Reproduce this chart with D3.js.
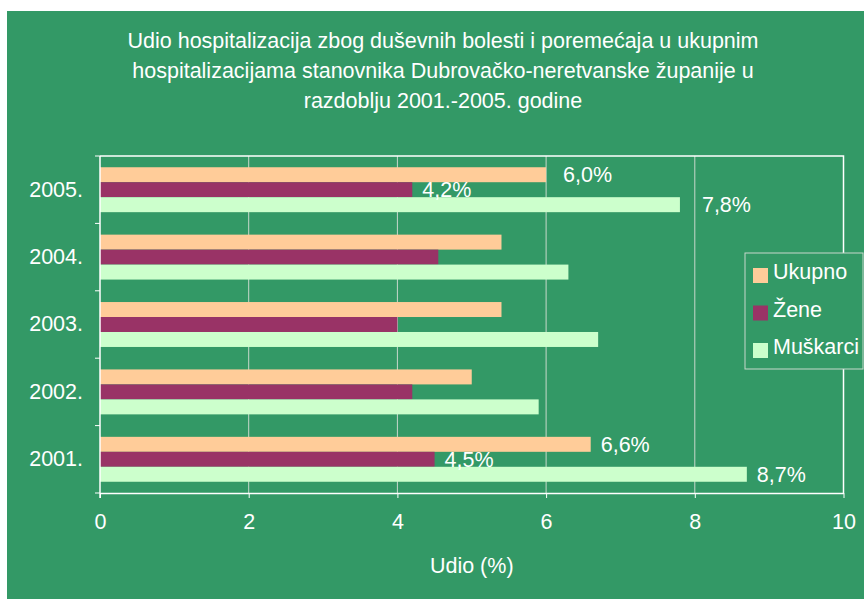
<!DOCTYPE html>
<html>
<head>
<meta charset="utf-8">
<script src="https://cdn.jsdelivr.net/npm/d3@7"></script>
<style>
  body { margin: 0; background: #ffffff; }
  svg text { font-family: "Liberation Sans", Arial, sans-serif; fill: #ffffff; }
</style>
</head>
<body>
<script>

// ---- data ----
var years      = ["2001.", "2002.", "2003.", "2004.", "2005."];
var seriesNames = ["Ukupno", "Žene", "Muškarci"];
var ukupno     = [6.6, 5.0, 5.4, 5.4, 6.0];
var zene       = [4.5, 4.2, 4.0, 4.55, 4.2];
var muskarci   = [8.7, 5.9, 6.7, 6.3, 7.8];
var xTicks     = [0, 2, 4, 6, 8, 10];
var labelYears = ["2001.", "2005."];
var titleLines = [
    "Udio hospitalizacija zbog duševnih bolesti i poremećaja u ukupnim",
    "hospitalizacijama stanovnika Dubrovačko-neretvanske županije u",
    "razdoblju 2001.-2005. godine"
];
var xTitle     = "Udio (%)";

// ---- look ----
var W          = 864, H = 599;
var bg         = "#339966";
var colors     = ["#ffcc99", "#993366", "#ccffcc"];
var fontSize   = 21.5;
var plot       = {left: 100, right: 843.5, top: 156, bottom: 493};
var labelDx    = 10;
// 2005 labels for Ukupno / Muškarci sit a bit further out in the original
var labelNudge = {"2005.|Ukupno": 7, "2005.|Muškarci": 12};

var values = [ukupno, zene, muskarci];

var svg = d3.select("body").append("svg")
    .attr("width", W)
    .attr("height", H);

// chart area background (white margin on top and left)
svg.append("rect")
    .attr("x", 7).attr("y", 11)
    .attr("width", W - 7).attr("height", H - 11)
    .attr("fill", bg);

// title
svg.append("g").selectAll("text")
    .data(titleLines)
    .join("text")
    .attr("x", 443)
    .attr("y", function(d, i) { return 48 + i * 30; })
    .attr("text-anchor", "middle")
    .style("font-size", fontSize + "px")
    .text(function(d) { return d; });

var x = d3.scaleLinear()
    .domain([0, 10])
    .range([plot.left, plot.right]);

var y = d3.scaleBand()
    .domain(years.slice().reverse())
    .range([plot.top, plot.bottom])
    .paddingInner(1 / 3)
    .paddingOuter(1 / 6);

var ySub = d3.scaleBand()
    .domain(seriesNames)
    .range([0, y.bandwidth()]);

// vertical gridlines
svg.append("g").selectAll("line")
    .data(xTicks.slice(1))
    .join("line")
    .attr("x1", function(d) { return x(d); })
    .attr("x2", function(d) { return x(d); })
    .attr("y1", plot.top)
    .attr("y2", plot.bottom)
    .attr("stroke", "#c8d8cc")
    .attr("stroke-width", 1);

// bars
var rows = [];
years.forEach(function(yr, i) {
    seriesNames.forEach(function(s, j) {
        rows.push({year: yr, series: s, si: j, value: values[j][i]});
    });
});

svg.append("g").selectAll("rect")
    .data(rows)
    .join("rect")
    .attr("x", x(0))
    .attr("y", function(d) { return y(d.year) + ySub(d.series); })
    .attr("width", function(d) { return x(d.value) - x(0); })
    .attr("height", ySub.bandwidth())
    .attr("fill", function(d) { return colors[d.si]; });

// plot frame (top and right edges white)
svg.append("path")
    .attr("d", "M" + plot.left + "," + plot.top + "H" + plot.right + "V" + plot.bottom)
    .attr("fill", "none")
    .attr("stroke", "#ffffff")
    .attr("stroke-width", 1.5);

// x axis
var xAxis = svg.append("g")
    .attr("transform", "translate(0," + plot.bottom + ")")
    .call(d3.axisBottom(x).tickValues(xTicks).tickSize(5).tickPadding(16).tickSizeOuter(0));
xAxis.select(".domain").attr("stroke", "#ffffff").attr("stroke-width", 1.5);
xAxis.selectAll(".tick line").attr("stroke", "#ffffff");
xAxis.selectAll(".tick text")
    .style("font-size", fontSize + "px")
    .attr("fill", "#ffffff");

// y axis: ticks between categories
var yAxis = svg.append("g")
    .attr("transform", "translate(" + plot.left + ",0)")
    .call(d3.axisLeft(y).tickSize(0).tickPadding(17));
yAxis.select(".domain").remove();
yAxis.selectAll(".tick text")
    .style("font-size", fontSize + "px")
    .attr("fill", "#ffffff");

var yBounds = d3.range(years.length + 1).map(function(i) {
    return plot.top + i * y.step();
});
svg.append("line")
    .attr("x1", plot.left).attr("x2", plot.left)
    .attr("y1", plot.top).attr("y2", plot.bottom + 5)
    .attr("stroke", "#ffffff").attr("stroke-width", 1.5);
svg.append("g").selectAll("line")
    .data(yBounds)
    .join("line")
    .attr("x1", plot.left - 5).attr("x2", plot.left)
    .attr("y1", function(d) { return d; })
    .attr("y2", function(d) { return d; })
    .attr("stroke", "#ffffff");

// axis title
svg.append("text")
    .attr("x", (plot.left + plot.right) / 2)
    .attr("y", 573)
    .attr("text-anchor", "middle")
    .style("font-size", fontSize + "px")
    .text(xTitle);

// data labels on first and last year
svg.append("g").selectAll("text")
    .data(rows.filter(function(d) { return labelYears.indexOf(d.year) >= 0; }))
    .join("text")
    .attr("x", function(d) {
        return x(d.value) + labelDx + (labelNudge[d.year + "|" + d.series] || 0);
    })
    .attr("y", function(d) { return y(d.year) + ySub(d.series) + ySub.bandwidth() / 2; })
    .attr("dy", "0.35em")
    .style("font-size", fontSize + "px")
    .text(function(d) { return d3.format(".1f")(d.value).replace(".", ",") + "%"; });

// legend
var lg = svg.append("g").attr("transform", "translate(745,253)");
lg.append("rect")
    .attr("width", 118).attr("height", 116)
    .attr("fill", bg)
    .attr("stroke", "#c8d8cc")
    .attr("stroke-width", 1);
var li = lg.selectAll("g")
    .data(seriesNames)
    .join("g")
    .attr("transform", function(d, i) { return "translate(8," + (15 + i * 37.5) + ")"; });
li.append("rect")
    .attr("width", 15).attr("height", 15)
    .attr("fill", function(d, i) { return colors[i]; });
li.append("text")
    .attr("x", 20)
    .attr("y", 11)
    .style("font-size", fontSize + "px")
    .text(function(d) { return d; });

</script>
</body>
</html>
